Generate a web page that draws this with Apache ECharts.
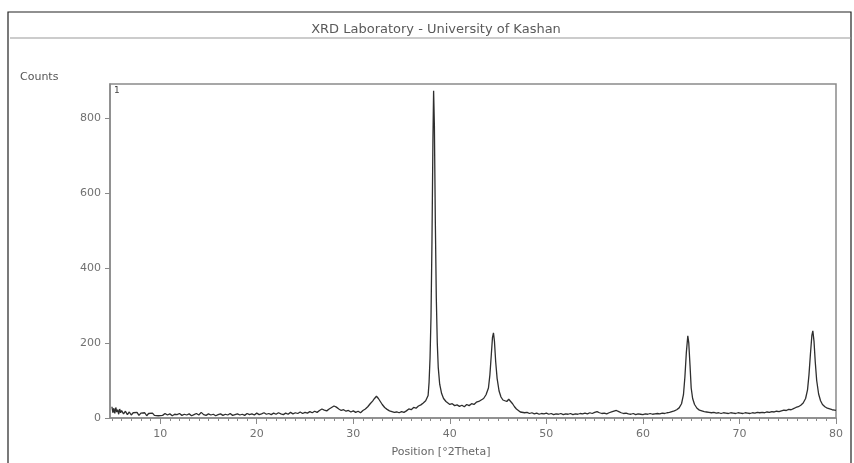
<!DOCTYPE html>
<html lang="en">
<head>
    <meta charset="UTF-8">
    <title>XRD pattern</title>
    <script src="https://cdn.jsdelivr.net/npm/echarts@6/dist/echarts.min.js"></script>
    <style>
        html, body { margin: 0; padding: 0; background: #fff; }
        #chart { width: 854px; height: 463px; }
    </style>
</head>
<body>
<div id="chart"></div>
<script>
    // 2Theta positions (deg)
    const theta = [
        5.0, 5.1, 5.2, 5.3, 5.4, 5.5, 5.6, 5.7, 5.8, 5.9, 6.0, 6.2, 6.4, 6.6, 6.8, 7.0, 7.2, 7.4, 7.6, 7.8,
        8.0, 8.2, 8.4, 8.6, 8.8, 9.0, 9.2, 9.4, 9.6, 9.8, 10.0, 10.25, 10.5, 10.75, 11.0, 11.25, 11.5, 11.75,
        12.0, 12.25, 12.5, 12.75, 13.0, 13.25, 13.5, 13.75, 14.0, 14.25, 14.5, 14.75, 15.0, 15.25, 15.5, 15.75,
        16.0, 16.25, 16.5, 16.75, 17.0, 17.25, 17.5, 17.75, 18.0, 18.25, 18.5, 18.75, 19.0, 19.25, 19.5, 19.75,
        20.0, 20.25, 20.5, 20.75, 21.0, 21.25, 21.5, 21.75, 22.0, 22.25, 22.5, 22.75, 23.0, 23.25, 23.5, 23.75,
        24.0, 24.25, 24.5, 24.75, 25.0, 25.25, 25.5, 25.75, 26.0, 26.25, 26.5, 26.75, 27.0, 27.25, 27.5, 27.75,
        28.0, 28.25, 28.5, 28.75, 29.0, 29.25, 29.5, 29.75, 30.0, 30.25, 30.5, 30.75, 31.0, 31.25, 31.5, 31.75,
        32.0, 32.2, 32.4, 32.6, 32.8, 33.0, 33.25, 33.5, 33.75, 34.0, 34.25, 34.5, 34.75, 35.0, 35.25, 35.5,
        35.75, 36.0, 36.25, 36.5, 36.75, 37.0, 37.25, 37.5, 37.75, 37.85, 37.95, 38.05, 38.15, 38.25, 38.32,
        38.4, 38.5, 38.6, 38.7, 38.8, 38.95, 39.15, 39.35, 39.6, 39.8, 40.0, 40.25, 40.5, 40.75, 41.0, 41.25,
        41.5, 41.75, 42.0, 42.25, 42.5, 42.75, 43.0, 43.25, 43.5, 43.75, 44.0, 44.15, 44.3, 44.42, 44.52,
        44.62, 44.75, 44.9, 45.1, 45.3, 45.5, 45.7, 45.9, 46.1, 46.3, 46.5, 46.7, 46.9, 47.1, 47.3, 47.5,
        47.75, 48.0, 48.25, 48.5, 48.75, 49.0, 49.25, 49.5, 49.75, 50.0, 50.25, 50.5, 50.75, 51.0, 51.25,
        51.5, 51.75, 52.0, 52.25, 52.5, 52.75, 53.0, 53.25, 53.5, 53.75, 54.0, 54.25, 54.5, 54.75, 55.0,
        55.25, 55.5, 55.75, 56.0, 56.25, 56.5, 56.75, 57.0, 57.25, 57.5, 57.75, 58.0, 58.25, 58.5, 58.75,
        59.0, 59.25, 59.5, 59.75, 60.0, 60.25, 60.5, 60.75, 61.0, 61.25, 61.5, 61.75, 62.0, 62.25, 62.5,
        62.75, 63.0, 63.25, 63.5, 63.75, 64.0, 64.2, 64.35, 64.5, 64.65, 64.75, 64.88, 65.0, 65.15, 65.35,
        65.6, 65.85, 66.1, 66.35, 66.6, 66.85, 67.1, 67.35, 67.6, 67.85, 68.1, 68.35, 68.6, 68.85, 69.1,
        69.35, 69.6, 69.85, 70.1, 70.35, 70.6, 70.85, 71.1, 71.35, 71.6, 71.85, 72.1, 72.35, 72.6, 72.85,
        73.1, 73.35, 73.6, 73.85, 74.1, 74.35, 74.6, 74.85, 75.1, 75.35, 75.6, 75.85, 76.1, 76.35, 76.6,
        76.85, 77.05, 77.2, 77.35, 77.5, 77.6, 77.72, 77.85, 78.0, 78.2, 78.4, 78.6, 78.85, 79.1, 79.35,
        79.6, 79.85, 80.0
    ];
    // intensities (counts) at each position
    const counts = [
        30, 14, 26, 12, 28, 16, 22, 10, 24, 14, 20, 11, 18, 9, 16, 8, 14, 10, 15, 7,
        13, 9, 14, 6, 12, 8, 13, 7, 11, 6, 10, 7, 12, 8, 11, 6, 10, 9,
        12, 7, 10, 8, 11, 6, 9, 12, 8, 15, 9, 7, 11, 8, 10, 6,
        9, 11, 7, 10, 8, 12, 7, 9, 11, 8, 10, 7, 12, 9, 11, 8,
        13, 9, 11, 14, 10, 12, 9, 13, 10, 14, 11, 9, 13, 10, 15, 11,
        14, 12, 16, 12, 15, 13, 17, 14, 18, 15, 20, 24, 21, 19, 24, 28,
        32, 29, 24, 20, 22, 18, 20, 16, 19, 15, 18, 14, 20, 24, 30, 38,
        45, 52, 58, 52, 44, 36, 28, 23, 19, 17, 15, 16, 14, 17, 15, 19,
        24, 22, 28, 26, 32, 35, 40, 46, 60, 95, 160, 270, 470, 740, 872,
        780, 520, 320, 200, 135, 90, 65, 52, 44, 40, 36, 38, 33, 35, 31, 34,
        30, 36, 33, 38, 36, 42, 44, 48, 52, 62, 80, 115, 170, 215, 227,
        205, 150, 105, 72, 56, 48, 45, 44, 50, 47, 38, 30, 24, 19, 16, 15,
        14, 15, 12, 14, 11, 13, 10, 12, 11, 13, 10, 12, 9, 11, 10,
        12, 9, 11, 10, 12, 9, 11, 10, 12, 11, 13, 11, 14, 12, 15,
        17, 14, 12, 13, 11, 14, 16, 18, 20, 17, 14, 12, 13, 11, 10,
        12, 9, 11, 10, 9, 11, 10, 12, 10, 11, 12, 11, 13, 12, 14,
        15, 17, 19, 22, 27, 38, 62, 110, 175, 219, 200, 140, 80, 52, 36,
        26, 21, 19, 17, 16, 15, 14, 15, 13, 14, 12, 14, 13, 12, 14,
        13, 12, 14, 13, 12, 14, 13, 12, 14, 13, 15, 14, 15, 14, 16,
        15, 17, 16, 18, 17, 19, 21, 20, 23, 22, 25, 28, 30, 34, 40,
        52, 75, 115, 170, 220, 232, 205, 150, 100, 64, 46, 36, 30, 26, 24,
        22, 21, 20
    ];
    // axis tick labels
    const xTicks = [10, 20, 30, 40, 50, 60, 70, 80];
    const yTicks = [0, 200, 400, 600, 800];
    const xMinorTicks = [];
    for (let v = 5; v <= 80; v++) { if (v % 10 !== 0) xMinorTicks.push(v); }

    const axisGray = '#8a8a8a';
    const labelGray = '#707070';
    const fontName = '"DejaVu Sans", Verdana, sans-serif';

    let myChart = echarts.init(document.getElementById('chart'));
    let option = {
        backgroundColor: '#fff',
        animation: false,
        grid: {
            left: 110, right: 18, top: 84, bottom: 45,
            show: true, borderColor: axisGray, borderWidth: 1.5
        },
        graphic: [
            // outer frame
            { type: 'rect', shape: { x: 8, y: 12, width: 843, height: 470 },
              style: { fill: 'none', stroke: '#222', lineWidth: 1.2 } },
            // rule under the title
            { type: 'line', shape: { x1: 10, y1: 38, x2: 851, y2: 38 },
              style: { stroke: '#9a9a9a', lineWidth: 1.2 } },
            { type: 'text', x: 436, y: 30,
              style: { text: 'XRD Laboratory - University of Kashan', fill: '#5a5a5a',
                       font: '13px ' + fontName, align: 'center', verticalAlign: 'middle' } },
            { type: 'text', x: 20, y: 77,
              style: { text: 'Counts', fill: '#555', font: '11px ' + fontName, verticalAlign: 'middle' } },
            { type: 'text', x: 114, y: 91,
              style: { text: '1', fill: '#444', font: '9px ' + fontName, verticalAlign: 'middle' } },
            { type: 'text', x: 441, y: 452,
              style: { text: 'Position [°2Theta]', fill: '#666', font: '11px ' + fontName,
                       align: 'center', verticalAlign: 'middle' } }
        ],
        xAxis: [
            {
                type: 'value', min: 4.8, max: 80,
                axisLine: { lineStyle: { color: axisGray, width: 1.5 } },
                axisTick: { customValues: xTicks, length: 6, lineStyle: { color: axisGray } },
                axisLabel: { customValues: xTicks, color: labelGray, fontSize: 11, fontFamily: fontName, margin: 11 },
                splitLine: { show: false }
            },
            {
                type: 'value', min: 4.8, max: 80, position: 'bottom',
                axisLine: { show: false },
                axisTick: { customValues: xMinorTicks, length: 3, lineStyle: { color: axisGray } },
                axisLabel: { show: false },
                splitLine: { show: false }
            }
        ],
        yAxis: {
            type: 'value', min: 0, max: 890,
            axisLine: { show: true, lineStyle: { color: axisGray, width: 1.5 } },
            axisTick: { show: true, customValues: yTicks, length: 5, lineStyle: { color: axisGray } },
            axisLabel: { customValues: yTicks, color: labelGray, fontSize: 11, fontFamily: fontName, margin: 9 },
            splitLine: { show: false }
        },
        series: [
            {
                type: 'line',
                data: theta.map((t, i) => [t, counts[i]]),
                showSymbol: false,
                lineStyle: { color: '#2e2e2e', width: 1.3 }
            }
        ]
    };
    myChart.setOption(option);
</script>
</html>
